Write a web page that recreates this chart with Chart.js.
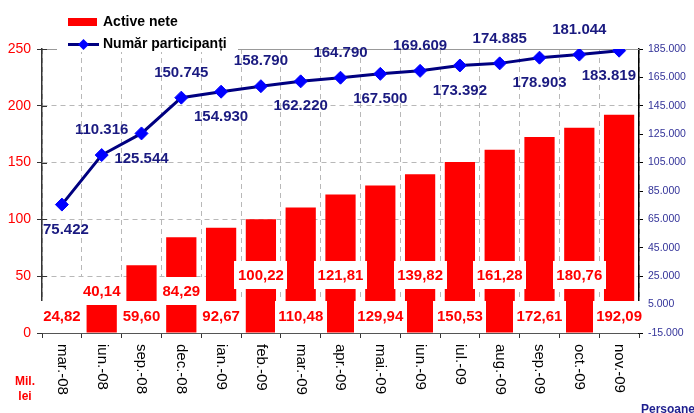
<!DOCTYPE html>
<html><head><meta charset="utf-8">
<script src="https://cdn.jsdelivr.net/npm/chart.js@4.4.0/dist/chart.umd.min.js"></script>
<style>html,body{margin:0;padding:0;background:#fff;overflow:hidden;}</style>
</head><body>
<canvas id="c" width="694" height="413"></canvas>
<script>
const categories = ['mar.-08','iun.-08','sep.-08','dec.-08','ian.-09','feb.-09','mar.-09','apr.-09','mai.-09','iun.-09','iul.-09','aug.-09','sep.-09','oct.-09','nov.-09'];
const activeNete = [24.82,40.14,59.60,84.29,92.67,100.22,110.48,121.81,129.94,139.82,150.53,161.28,172.61,180.76,192.09];
const participanti = [75422,110316,125544,150745,154930,158790,162220,164790,167500,169609,173392,174885,178903,181044,183819];
const leftAxis = {min:0, max:250, step:50};
const rightAxis = {min:-15000, max:185000, step:20000};
const seriesNames = ['Active nete','Număr participanți'];

const FONT = '"Liberation Sans", Arial, sans-serif';
const RED = '#FF0000', NAVY = '#000080', BLUE = '#0000FF', AXISBLUE = '#333399';

function fmtThousands(v){
  const s = Math.abs(v).toString().replace(/\B(?=(\d{3})+(?!\d))/g,'.');
  return (v<0?'-':'')+s;
}
function fmtComma(v){ return v.toFixed(2).replace('.',','); }

const decorPlugin = {
  id:'decor',
  beforeDatasetsDraw(chart){
    const {ctx, chartArea:a} = chart;
    ctx.save();
    ctx.strokeStyle = '#999999'; ctx.lineWidth = 1;
    ctx.beginPath(); ctx.moveTo(a.left, a.top+0.5); ctx.lineTo(a.right, a.top+0.5); ctx.stroke();
    // left-axis ticks crossing into the plot
    ctx.strokeStyle = '#333333';
    const ys = chart.scales.y;
    ys.ticks.forEach(t=>{
      if (t.value===leftAxis.min) return;
      const y = Math.round(ys.getPixelForValue(t.value))+0.5;
      ctx.beginPath(); ctx.moveTo(a.left, y); ctx.lineTo(a.left+5, y); ctx.stroke();
    });
    ctx.restore();
  },
  afterDatasetsDraw(chart){
    const {ctx, chartArea:a} = chart;
    const barMeta = chart.getDatasetMeta(1);
    const lineMeta = chart.getDatasetMeta(0);
    ctx.save();
    ctx.font = 'bold 15px '+FONT;
    ctx.textAlign = 'center'; ctx.textBaseline = 'middle';
    // bar labels
    barMeta.data.forEach((el,i)=>{
      const txt = fmtComma(activeNete[i]);
      const x = el.x;
      const w = ctx.measureText(txt).width + 7;
      let y, top, h;
      if (i%2===0) { y = a.bottom - 17; top = y - 15; h = a.bottom - top; }
      else { y = (i<=3) ? a.bottom - 42 : a.bottom - 58; top = y - 14; h = 28; }
      ctx.fillStyle = '#FFFFFF';
      ctx.fillRect(Math.round(x - w/2), Math.round(top), Math.round(w), Math.round(h));
      ctx.fillStyle = RED;
      ctx.fillText(txt, x, y+1);
    });
    // line labels
    lineMeta.data.forEach((el,i)=>{
      const txt = fmtThousands(participanti[i]);
      const y = el.y + (i%2===0 ? 25 : -25);
      const w = ctx.measureText(txt).width;
      let x = el.x;
      if (x - w/2 < a.left + 1) x = a.left + 1 + w/2;
      if (x + w/2 > a.right - 3) x = a.right - 3 - w/2;
      ctx.fillStyle = '#1A1A80';
      ctx.fillText(txt, x, y);
    });
    ctx.restore();
  },
  afterDraw(chart){
    const {ctx, chartArea:a, scales} = chart;
    ctx.save();
    // x labels rotated clockwise
    ctx.font = '15px '+FONT;
    ctx.fillStyle = '#000000';
    ctx.textAlign = 'left'; ctx.textBaseline = 'middle';
    categories.forEach((c,i)=>{
      const x = scales.x.getPixelForValue(i);
      ctx.save();
      ctx.translate(x, a.bottom + 11);
      ctx.rotate(Math.PI/2);
      ctx.fillText(c, 0, 0);
      ctx.restore();
    });
    // unit labels
    ctx.font = 'bold 12px '+FONT;
    ctx.fillStyle = RED; ctx.textAlign = 'center';
    ctx.fillText('Mil.', 25, 382);
    ctx.fillText('lei', 25, 397);
    ctx.fillStyle = '#1F1F8F'; ctx.textAlign = 'left'; ctx.textBaseline = 'alphabetic';
    ctx.fillText('Persoane', 641, 413);
    // legend
    ctx.fillStyle = '#FFFFFF';
    ctx.fillRect(57, 6, 181, 46);
    ctx.fillStyle = RED;
    ctx.fillRect(68, 18, 29, 8);
    ctx.strokeStyle = NAVY; ctx.lineWidth = 3;
    ctx.beginPath(); ctx.moveTo(68, 44.5); ctx.lineTo(99, 44.5); ctx.stroke();
    ctx.fillStyle = BLUE;
    ctx.beginPath(); ctx.moveTo(83.5, 39); ctx.lineTo(89, 44.5); ctx.lineTo(83.5, 50); ctx.lineTo(78, 44.5); ctx.closePath(); ctx.fill();
    ctx.font = 'bold 14px '+FONT; ctx.fillStyle = '#000000'; ctx.textBaseline = 'middle';
    ctx.fillText(seriesNames[0], 103, 22);
    ctx.fillText(seriesNames[1], 103, 44);
    ctx.restore();
  }
};

new Chart(document.getElementById('c'), {
  type:'bar',
  data:{
    labels: categories,
    datasets:[
      {type:'line', label:seriesNames[1], data:participanti, yAxisID:'y2', order:0,
       borderColor:NAVY, borderWidth:3, pointStyle:'rectRot', pointRadius:6.5,
       pointBackgroundColor:BLUE, pointBorderColor:BLUE, pointBorderWidth:1, tension:0, fill:false},
      {type:'bar', label:seriesNames[0], data:activeNete, yAxisID:'y', order:1,
       backgroundColor:RED, borderWidth:0, barPercentage:0.76, categoryPercentage:1.0}
    ]
  },
  options:{
    responsive:false, animation:false, devicePixelRatio:1,
    layout:{padding:{top:49, left:0, right:0, bottom:0}},
    plugins:{legend:{display:false}, tooltip:{enabled:false}},
    scales:{
      x:{
        offset:true,
        grid:{offset:true, color:'#B8B8B8', lineWidth:1, tickColor:'#333333', tickLength:5, drawTicks:true},
        border:{display:true, color:'#555555', dash:[5,4]},
        ticks:{display:false},
        afterFit(s){ s.height = 80; }
      },
      y:{
        position:'left', min:leftAxis.min, max:leftAxis.max,
        ticks:{stepSize:leftAxis.step, color:RED, font:{family:FONT, size:14}, padding:6},
        grid:{color:(c)=> (c.tick && (c.tick.value===leftAxis.min || c.tick.value===leftAxis.max)) ? 'rgba(0,0,0,0)' : '#B8B8B8',
              tickColor:'#333333', tickLength:5},
        border:{display:true, color:'#333333', width:1.5, dash:[5,4]},
        afterFit(s){ s.width = 42; }
      },
      y2:{
        position:'right', min:rightAxis.min, max:rightAxis.max,
        ticks:{stepSize:rightAxis.step, color:AXISBLUE, font:{family:FONT, size:10.5}, padding:5,
               callback:(v)=>fmtThousands(v)},
        grid:{drawOnChartArea:false, tickColor:'#000000', tickLength:4},
        border:{display:true, color:'#000000', width:1.5},
        afterFit(s){ s.width = 55; }
      }
    }
  },
  plugins:[decorPlugin]
});
</script>
</body></html>
